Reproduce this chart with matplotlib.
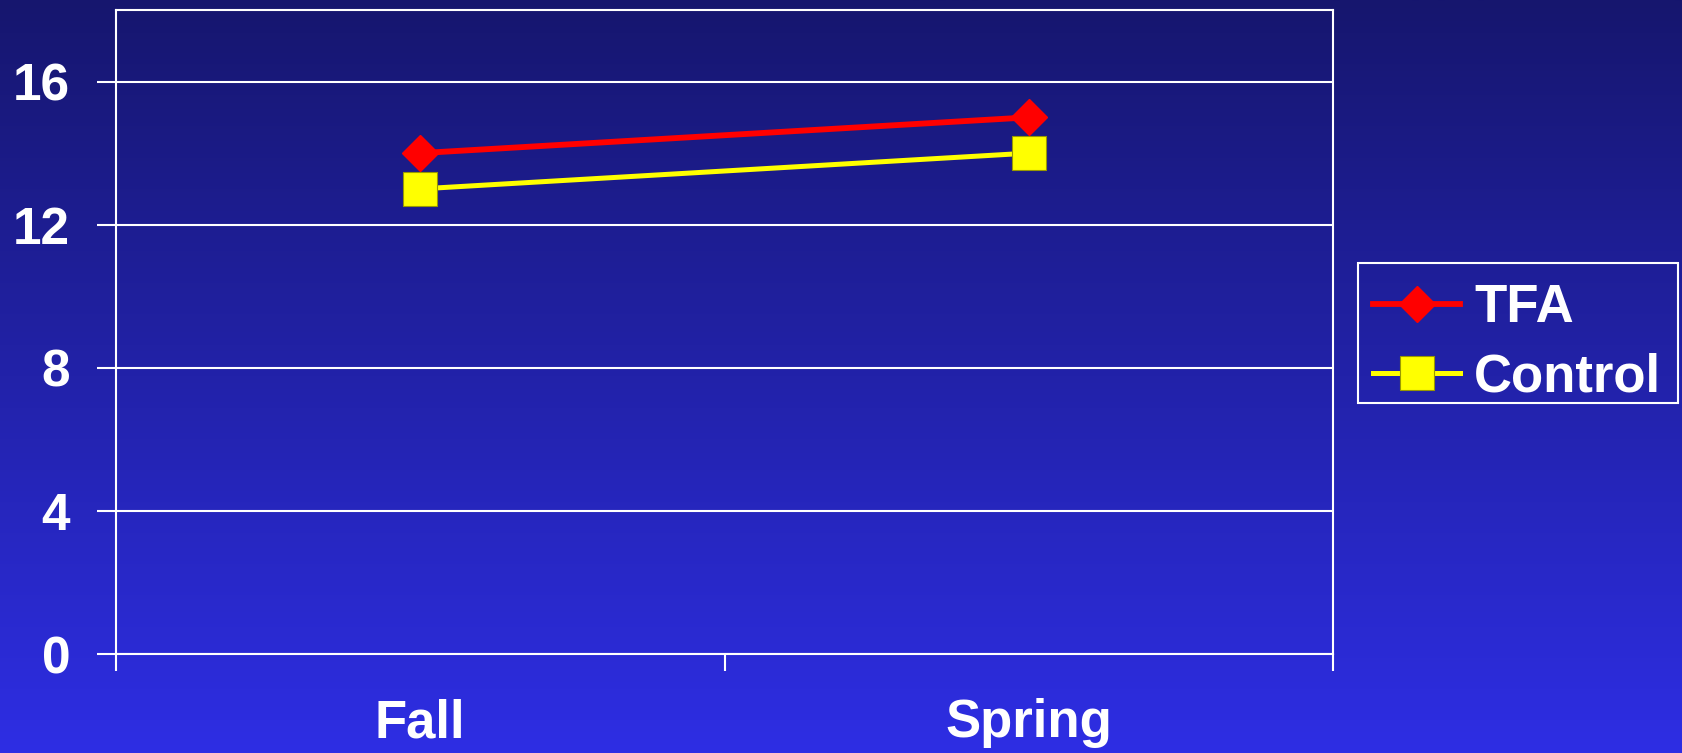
import numpy as np
import matplotlib
matplotlib.use("Agg")
import matplotlib.pyplot as plt
from matplotlib.colors import LinearSegmentedColormap
from matplotlib.patches import Rectangle

categories = ["Fall", "Spring"]
tfa = [14, 15]
control = [13, 14]
yticks = [0, 4, 8, 12, 16]

plt.rcParams['font.family'] = ['Liberation Sans', 'DejaVu Sans']
plt.rcParams['font.weight'] = 'bold'

W, H = 1682, 753
fig = plt.figure(figsize=(W / 100, H / 100), dpi=100)

# gradient background
bg = fig.add_axes([0, 0, 1, 1], zorder=0)
cmap = LinearSegmentedColormap.from_list("bg", ["#16166e", "#2e2ee4"])
grad = np.linspace(0, 1, 256).reshape(-1, 1)
bg.imshow(grad, aspect='auto', cmap=cmap, extent=[0, 1, 0, 1], origin='upper')
bg.set_axis_off()

ax = fig.add_axes([116 / W, 1 - 654 / H, (1333 - 116) / W, (654 - 10) / H], zorder=1)
ax.set_facecolor('none')

x = np.arange(len(categories)) + 0.5
ax.plot(x, tfa, color='#ff0000', lw=4.2, marker='D', ms=18, mec='#ff0000',
        mfc='#ff0000', label='TFA', zorder=4)
ax.plot(x, control, color='#ffff00', lw=3.6, marker='s', ms=24, mec='#999900',
        mew=0.8, mfc='#ffff00', label='Control', zorder=3)

ax.set_xlim(0, 2)
ax.set_ylim(0, 18)
ax.set_yticks(yticks)
ax.set_yticklabels([str(v) for v in yticks])
ax.set_xticks([0, 1, 2])
ax.set_xticks(x, minor=True)
ax.set_xticklabels([])
ax.set_xticklabels(categories, minor=True)
ax.tick_params(axis='x', which='minor', length=0, pad=32, labelsize=38, labelcolor='white')
ax.tick_params(axis='x', which='major', length=12, width=1.5, color='white')
ax.tick_params(axis='y', length=14, width=1.5, color='white', pad=19, labelsize=37,
               labelcolor='white')
ax.grid(axis='y', color='white', lw=1.5)
for s in ax.spines.values():
    s.set_color('white')
    s.set_linewidth(1.5)

# legend frame
fig.add_artist(Rectangle((1358 / W, 1 - 403 / H), (1678 - 1358) / W, (403 - 263) / H,
                         transform=fig.transFigure, facecolor='none',
                         edgecolor='white', lw=1.5, zorder=2))

leg = ax.legend(loc='upper left', bbox_to_anchor=(1373 / W, 1 - 283.5 / H),
                bbox_transform=fig.transFigure, borderaxespad=0, fontsize=38,
                frameon=False, handlelength=1.65, handletextpad=0.27,
                labelspacing=0.36, borderpad=0)
for t in leg.get_texts():
    t.set_color('white')

fig.savefig("out.png", dpi=100)
